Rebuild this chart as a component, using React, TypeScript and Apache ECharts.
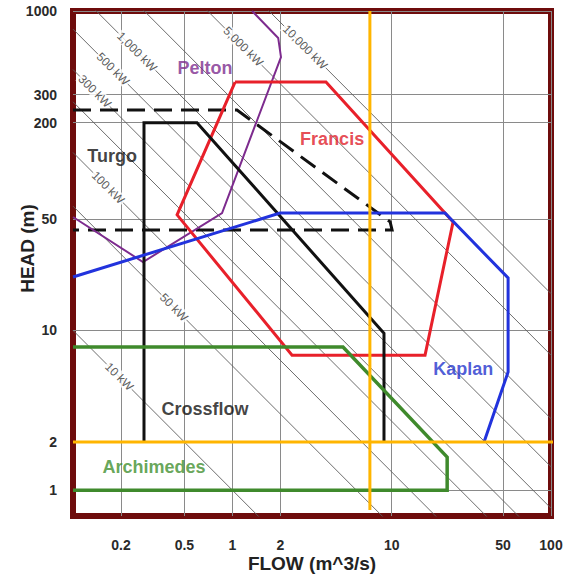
import React, { useEffect, useRef } from 'react';
import * as echarts from 'echarts';

// Axis ticks (real units, log-log chart)
const X_TICKS = [0.2, 0.5, 1, 2, 10, 50, 100];
const Y_TICKS = [1, 2, 10, 50, 200, 300, 1000];

// Turbine application envelopes (flow m^3/s, head m)
const PELTON_FLOW = [0.1, 0.275, 0.862, 2.02, 1.94, 1.33];
const PELTON_HEAD = [51.3, 26.8, 54.3, 515, 678, 1000];

const FRANCIS_FLOW = [1.04, 3.87, 24.3, 16.2, 2.37, 0.45, 1.04];
const FRANCIS_HEAD = [359, 359, 47.8, 7.0, 7.0, 52.9, 359];

const KAPLAN_FLOW = [0.1, 1.99, 21.6, 53.8, 53.8, 38];
const KAPLAN_HEAD = [21.6, 54.3, 54.3, 21.3, 5.5, 2];

const TURGO_FLOW = [0.279, 0.279, 0.6, 8.95, 8.95];
const TURGO_HEAD = [2, 200, 200, 9.6, 2];

const DASHED_FLOW = [0.1, 1.07, 9.78, 10.06, 0.1];
const DASHED_HEAD = [240, 240, 47.8, 42.6, 42.6];

const GREEN_FLOW = [0.1, 4.95, 22.3, 22.3, 0.1];
const GREEN_HEAD = [7.87, 7.87, 1.61, 1.0, 1.0];

// Highlight lines
const ORANGE_V_FLOW = [7.3, 7.3];
const ORANGE_V_HEAD = [0.75, 1000];
const ORANGE_H_FLOW = [0.1, 110];
const ORANGE_H_HEAD = [2, 2];

// Constant-power lines: flow x head product
const POWER_LABELS = ['10 kW', '50 kW', '100 kW', '', '300 kW', '500 kW', '1,000 kW', '', '5,000 kW', '10,000 kW'];
const POWER_QH = [1.0, 6, 13, 27, 43, 77, 140, 280, 700, 1700];
const POWER_LABEL_FLOW = [0.195, 0.43, 0.166, null, 0.137, 0.178, 0.252, null, 1.17, 2.86];

// Region names
const NAMES = ['Pelton', 'Francis', 'Turgo', 'Kaplan', 'Crossflow', 'Archimedes'];
const NAME_FLOW = [0.674, 4.23, 0.176, 28.1, 0.674, 0.322];
const NAME_HEAD = [440, 158, 124, 5.7, 3.2, 1.4];

const NAME_COLORS = ['#7d2b8e', '#e0202a', '#111111', '#2233cc', '#111111', '#3f8f2f'];

export default function App() {
  const ref = useRef<HTMLDivElement>(null);

  useEffect(() => {
    const chart = echarts.init(ref.current as HTMLDivElement, undefined, { renderer: 'svg' });
    const L = Math.log10;
    const font = "'Liberation Sans', Arial, sans-serif";
    const pts = (fs: number[], hs: number[]) => fs.map((f, i) => [L(f), L(hs[i])]);
    const fmt = (ticks: number[]) => (v: number) => {
      const t = ticks.find((tt) => Math.abs(L(tt) - v) < 1e-6);
      return t === undefined ? '' : String(t);
    };
    const shape = (name: string, data: number[][], color: string, width: number, extra: any = {}) => ({
      type: 'line',
      name,
      data,
      symbol: 'none',
      showSymbol: false,
      silent: true,
      z: 3,
      lineStyle: { color, width, join: 'miter', cap: 'butt', ...(extra.lineStyle || {}) },
      ...(extra.clip === false ? { clip: false } : {}),
    });

    const series: any[] = [];
    POWER_QH.forEach((qh, i) => {
      series.push({
        type: 'line',
        name: 'P' + i,
        data: [
          [-1, L(qh / 0.1)],
          [2, L(qh / 100)],
        ],
        symbol: 'none',
        showSymbol: false,
        silent: true,
        z: 1,
        lineStyle: { color: '#5c5c5c', width: 0.9 },
      });
    });

    series.push({
      type: 'scatter',
      name: 'powerLabels',
      silent: true,
      z: 2,
      symbolSize: 1,
      itemStyle: { color: 'rgba(0,0,0,0)' },
      data: POWER_LABEL_FLOW.map((f, i) =>
        f == null
          ? null
          : { value: [L(f), L(POWER_QH[i] / f)], label: { formatter: POWER_LABELS[i] } }
      ).filter((d) => d !== null),
      label: {
        show: true,
        position: 'inside',
        rotate: -45,
        fontSize: 12,
        fontFamily: font,
        color: '#333',
        backgroundColor: '#ffffff',
        padding: [0, 1],
      },
    });

    series.push(shape('Dashed', pts(DASHED_FLOW, DASHED_HEAD), '#111', 3, { lineStyle: { type: [18, 9] } }));
    series.push(shape('Pelton', pts(PELTON_FLOW, PELTON_HEAD), '#7d2b8e', 2));
    series.push(shape('Francis', pts(FRANCIS_FLOW, FRANCIS_HEAD), '#e8202a', 3));
    series.push(shape('Turgo', pts(TURGO_FLOW, TURGO_HEAD), '#111', 3));
    series.push(shape('Kaplan', pts(KAPLAN_FLOW, KAPLAN_HEAD), '#2233dd', 3));
    series.push(shape('Green', pts(GREEN_FLOW, GREEN_HEAD), '#3f8a2c', 3.5));
    series.push(shape('OrangeV', pts(ORANGE_V_FLOW, ORANGE_V_HEAD), '#ffb500', 3, { clip: false }));
    series.push(shape('OrangeH', pts(ORANGE_H_FLOW, ORANGE_H_HEAD), '#ffb500', 3, { clip: false }));

    series.push({
      type: 'scatter',
      name: 'names',
      silent: true,
      z: 5,
      symbolSize: 1,
      itemStyle: { color: 'rgba(0,0,0,0)' },
      data: NAMES.map((n, i) => ({
        value: [L(NAME_FLOW[i]), L(NAME_HEAD[i])],
        label: { formatter: n, color: NAME_COLORS[i] },
      })),
      label: {
        show: true,
        position: 'inside',
        fontSize: 18,
        fontWeight: 'bold',
        fontFamily: font,
      },
    });

    const axisCommon = {
      type: 'value',
      axisLine: { show: false },
      splitLine: { show: true, lineStyle: { color: '#8a8a8a', width: 1 } },
      nameMoveOverlap: false,
    };

    chart.setOption({
      animation: false,
      backgroundColor: '#ffffff',
      grid: {
        left: 73,
        top: 11,
        width: 478,
        height: 505,
        show: true,
        borderColor: '#6e0c0c',
        borderWidth: 6,
        backgroundColor: 'rgba(0,0,0,0)',
        containLabel: false,
        outerBoundsMode: 'none',
      },
      xAxis: {
        ...axisCommon,
        min: -1,
        max: 2,
        name: 'FLOW (m^3/s)',
        nameLocation: 'middle',
        nameGap: 38,
        nameTextStyle: { fontSize: 19, fontWeight: 'bold', color: '#222', fontFamily: font },
        axisTick: { show: false, customValues: X_TICKS.map(L) },
        axisLabel: {
          customValues: X_TICKS.map(L),
          formatter: fmt(X_TICKS),
          fontSize: 14,
          fontWeight: 'bold',
          color: '#2a2a2a',
          fontFamily: font,
          margin: 22,
        },
      },
      yAxis: {
        ...axisCommon,
        min: -0.162,
        max: 3,
        name: 'HEAD (m)',
        nameLocation: 'middle',
        nameGap: 36,
        nameTextStyle: { fontSize: 19, fontWeight: 'bold', color: '#222', fontFamily: font, padding: [0, 0, 0, 30] },
        axisTick: { show: false, customValues: Y_TICKS.map(L) },
        axisLabel: {
          customValues: Y_TICKS.map(L),
          formatter: fmt(Y_TICKS),
          fontSize: 14,
          fontWeight: 'bold',
          color: '#2a2a2a',
          fontFamily: font,
          margin: 16,
        },
      },
      series,
    });

    return () => {
      chart.dispose();
    };
  }, []);

  return (
    <div
      ref={ref}
      style={{ position: 'absolute', left: 0, top: 0, width: 579, height: 578, background: '#fff' }}
    />
  );
}
